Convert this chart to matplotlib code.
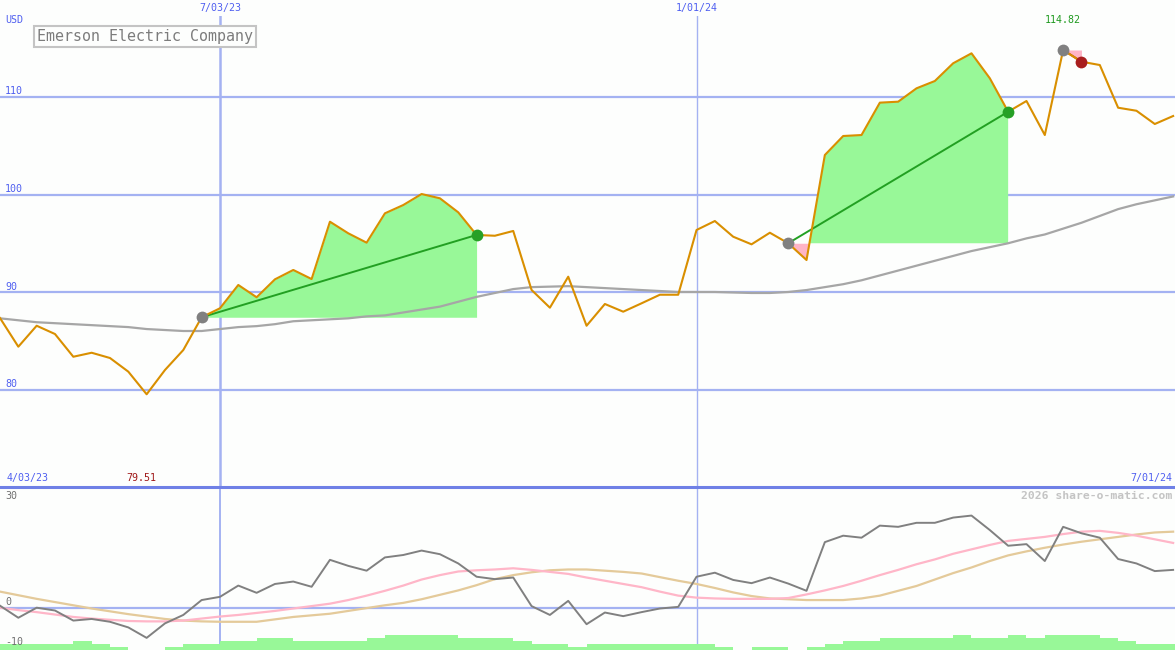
import matplotlib
matplotlib.use("Agg")
import matplotlib.pyplot as plt
import matplotlib.dates as mdates
import matplotlib.transforms as mtrans
import numpy as np
import pandas as pd

# ---------------- data ----------------
start_date = "2023-04-10"
n_weeks = 65
dates = pd.date_range(start_date, periods=n_weeks, freq="7D")

price = [87.33, 84.39, 86.54, 85.69, 83.36, 83.77, 83.23, 81.83, 79.51, 82.00,
         84.05, 87.41, 88.33, 90.72, 89.46, 91.30, 92.26, 91.33, 97.21, 96.02,
         95.06, 98.07, 98.92, 100.05, 99.61, 98.17, 95.85, 95.77, 96.26, 90.21,
         88.39, 91.57, 86.54, 88.77, 87.98, 88.84, 89.72, 89.72, 96.36, 97.28,
         95.67, 94.89, 96.08, 95.00, 93.28, 104.05, 106.00, 106.10, 109.42, 109.52,
         110.89, 111.64, 113.46, 114.48, 111.92, 108.49, 109.59, 106.10, 114.82, 113.62,
         113.28, 108.90, 108.59, 107.23, 108.05]

price_ma = [87.3, 87.1, 86.9, 86.8, 86.7, 86.6, 86.5, 86.4, 86.2, 86.1,
            86.0, 86.0, 86.2, 86.4, 86.5, 86.7, 87.0, 87.1, 87.2, 87.3,
            87.5, 87.6, 87.9, 88.2, 88.5, 89.0, 89.5, 89.9, 90.3, 90.5,
            90.55, 90.6, 90.5, 90.4, 90.3, 90.2, 90.1, 90.0, 90.0, 90.0,
            89.95, 89.9, 89.9, 90.0, 90.2, 90.5, 90.8, 91.2, 91.7, 92.2,
            92.7, 93.2, 93.7, 94.2, 94.6, 95.0, 95.5, 95.9, 96.5, 97.1,
            97.8, 98.5, 99.0, 99.4, 99.8]

momentum = [0.5, -2.5, 0.0, -0.7, -3.2, -2.8, -3.5, -4.9, -7.5, -3.9,
            -1.8, 1.9, 2.7, 5.5, 3.7, 5.9, 6.5, 5.2, 11.9, 10.4,
            9.2, 12.5, 13.1, 14.2, 13.3, 11.0, 7.7, 7.1, 7.5, 0.4,
            -1.8, 1.7, -4.1, -1.2, -2.1, -1.1, -0.2, 0.2, 7.7, 8.7,
            6.9, 6.1, 7.5, 6.0, 4.2, 16.3, 17.9, 17.4, 20.4, 20.1,
            21.1, 21.1, 22.4, 22.9, 19.3, 15.4, 15.8, 11.6, 20.1, 18.5,
            17.4, 12.1, 11.0, 9.1, 9.4]

mom_fast = [0.0, -0.6, -1.1, -1.7, -2.3, -2.7, -3.0, -3.3, -3.4, -3.4,
            -3.2, -2.7, -2.2, -1.8, -1.3, -0.8, -0.2, 0.4, 1.0, 1.9,
            3.0, 4.2, 5.5, 7.0, 8.1, 9.0, 9.3, 9.5, 9.8, 9.4,
            8.9, 8.4, 7.5, 6.7, 5.9, 5.1, 4.0, 3.0, 2.5, 2.3,
            2.2, 2.2, 2.2, 2.4, 3.3, 4.3, 5.4, 6.7, 8.1, 9.4,
            10.8, 12.0, 13.4, 14.5, 15.6, 16.6, 17.1, 17.6, 18.3, 18.9,
            19.1, 18.6, 17.9, 17.0, 16.1]

mom_slow = [4.0, 3.1, 2.2, 1.4, 0.6, -0.2, -0.9, -1.6, -2.2, -2.8,
            -3.2, -3.4, -3.5, -3.5, -3.5, -2.9, -2.3, -1.9, -1.5, -0.8,
            -0.1, 0.6, 1.2, 2.1, 3.2, 4.3, 5.6, 7.1, 8.1, 8.8,
            9.3, 9.5, 9.5, 9.2, 8.9, 8.5, 7.6, 6.7, 5.9, 4.9,
            3.8, 2.9, 2.3, 2.1, 1.9, 1.9, 1.9, 2.3, 3.0, 4.2,
            5.4, 7.0, 8.6, 10.0, 11.6, 13.0, 14.0, 14.9, 15.7, 16.4,
            17.0, 17.6, 18.2, 18.7, 18.9]

volume_level = [2, 2, 2, 2, 3, 2, 1, 0, 0, 1,
                2, 2, 3, 3, 4, 4, 3, 3, 3, 3,
                4, 5, 5, 5, 5, 4, 4, 4, 3, 2,
                2, 1, 2, 2, 2, 2, 2, 2, 2, 1,
                0, 1, 1, 0, 1, 2, 3, 3, 4, 4,
                4, 4, 5, 4, 4, 5, 4, 5, 5, 5,
                4, 3, 2, 2, 2]

# trades: (entry index, exit index, profitable)
trades = [(11, 26, True), (43, 55, True), (58, 59, False)]

company = "Emerson Electric Company"
currency = "USD"
price_levels = [80, 90, 100, 110]
vline_dates = ["2023-07-03", "2024-01-01"]
vline_labels = ["7/03/23", "1/01/24"]
range_labels = ["4/03/23", "7/01/24"]
lower_labels = ["30", "0", "-10"]
max_label = "114.82"
min_label = "79.51"
credit = "2026 share-o-matic.com"

# ---------------- style ----------------
W, H = 1175, 650
BG = "#fdfefd"
GRID = "#a4b2f2"
GRID_DARK = "#6f80e6"
BLUE_TXT = "#4f5ff0"
ORANGE = "#d98f00"
MA_GRAY = "#a6a6a6"
FILL_G = "#98f898"
FILL_P = "#ffb4c6"
LINE_G = "#22a022"
MONO = "DejaVu Sans Mono"

fig = plt.figure(figsize=(W / 100, H / 100), dpi=100, facecolor=BG)

top_px, split_px = 16, 487
ax = fig.add_axes([0, (H - split_px) / H, 1, (split_px - top_px) / H])
axl = fig.add_axes([0, 0, 1, (H - split_px) / H])

x = mdates.date2num(dates)
x0 = x[0]
px_per_day = 18.33 / 7.0
xmax = x0 + W / px_per_day

for a in (ax, axl):
    a.set_facecolor(BG)
    a.set_xlim(x0, xmax)
    for s in a.spines.values():
        s.set_visible(False)
    a.set_xticks([])
    a.set_yticks([])

# price axis scale: 110 at y=97px, 9.75 px per unit
ppu = 9.75
y_top = 110 + (97 - top_px) / ppu
y_bot = 110 - (split_px - 97) / ppu
ax.set_ylim(y_bot, y_top)

for lv in price_levels:
    ax.axhline(lv, color=GRID, lw=1.6, zorder=1)

vx = mdates.date2num(pd.to_datetime(vline_dates))
ax.axvline(vx[0], color=GRID, lw=1.8, zorder=1)
ax.axvline(vx[1], color=GRID, lw=1.0, zorder=1)
axl.axvline(vx[0], color=GRID, lw=1.4, zorder=1)
axl.axvline(vx[1], color=GRID, lw=1.0, zorder=1)

price_a = np.array(price)

# trade fills
for ei, xi, win in trades:
    seg = slice(ei, xi + 1)
    base = price_a[ei]
    ax.fill_between(x[seg], price_a[seg], base, where=price_a[seg] >= base,
                    interpolate=True, color=FILL_G, lw=0, zorder=2)
    ax.fill_between(x[seg], price_a[seg], base, where=price_a[seg] <= base,
                    interpolate=True, color=FILL_P, lw=0, zorder=2)

ax.plot(x, price_ma, color=MA_GRAY, lw=1.6, zorder=3)

for ei, xi, win in trades:
    c = LINE_G if win else "#b02020"
    ax.plot([x[ei], x[xi]], [price_a[ei], price_a[xi]], color=c, lw=1.4, zorder=3.5)

ax.plot(x, price_a, color=ORANGE, lw=1.5, zorder=4)

for ei, xi, win in trades:
    ax.plot(x[ei], price_a[ei], "o", color="#808080", ms=8.5, mew=0, zorder=6)
    ax.plot(x[xi], price_a[xi], "o", color=("#26a026" if win else "#a81e1e"),
            ms=8.5, mew=0, zorder=6)

# text in main panel
ytr = ax.get_yaxis_transform()
for lv in price_levels:
    ax.text(5 / W, lv, str(lv), transform=mtrans.offset_copy(ytr, fig=fig, x=0, y=5.5, units="dots"),
            ha="left", va="center", color=BLUE_TXT, fontsize=7.2, family=MONO, zorder=7)
fig.text(5 / W, 1 - 20 / H, currency, ha="left", va="center", color=BLUE_TXT,
         fontsize=7.2, family=MONO)
for vxx, lab in zip(vx, vline_labels):
    ax.text(vxx, 1 + 8 / (split_px - top_px), lab, transform=ax.get_xaxis_transform(),
            ha="center", va="center", color=BLUE_TXT, fontsize=7.2, family=MONO, clip_on=False)

fig.text(7 / W, 1 - 478 / H, range_labels[0], ha="left", va="center", color=BLUE_TXT,
         fontsize=7.2, family=MONO)
fig.text(1172 / W, 1 - 478 / H, range_labels[1], ha="right", va="center", color=BLUE_TXT,
         fontsize=7.2, family=MONO)

imax = int(np.argmax(price_a))
imin = int(np.argmin(price_a))
ax.text(x[imax], 1 + (top_px - 20) / (split_px - top_px), max_label,
        transform=ax.get_xaxis_transform(), ha="center", va="center",
        color="#1f9a1f", fontsize=7.2, family=MONO)
ax.text(x[imin] - 5 / px_per_day, y_bot + 9 / ppu, min_label, ha="center", va="center",
        color="#a01818", fontsize=7.2, family=MONO)

fig.text(37 / W, 1 - 36.5 / H, company, ha="left", va="center", color="#7c7c7c",
         fontsize=10.8, family=MONO,
         bbox=dict(boxstyle="square,pad=0.22", facecolor=BG, edgecolor="#c4c4c4", lw=1.5))

# ---------------- lower panel ----------------
lppu = 4.023
zero_px = 607.7
l_top = (zero_px - split_px) / lppu
l_bot = -(H - zero_px) / lppu
axl.set_ylim(l_bot, l_top)
axl.axhline(0, color=GRID, lw=1.6, zorder=1)
axl.axhline(l_top, color=GRID_DARK, lw=2.2, zorder=8, clip_on=False)

vol_h = np.array(volume_level) * (3.0 / lppu)
axl.bar(x, vol_h, width=7, align="edge", bottom=l_bot, color=FILL_G, lw=0, zorder=2)

axl.plot(x, mom_slow, color="#e4ca9a", lw=1.6, zorder=3)
axl.plot(x, mom_fast, color="#ffb6c8", lw=1.6, zorder=3)
axl.plot(x, momentum, color="#808080", lw=1.4, zorder=4)

label_px = [496, 602, 642]
for lab, py in zip(lower_labels, label_px):
    fig.text(5 / W, 1 - py / H, lab, ha="left", va="center", color="#707070",
             fontsize=7.2, family=MONO)
fig.text(1172 / W, 1 - 496 / H, credit, ha="right", va="center", color="#c4c4c4",
         fontsize=8.2, family=MONO, fontweight="bold")

fig.savefig("out.png", dpi=100, facecolor=BG)
